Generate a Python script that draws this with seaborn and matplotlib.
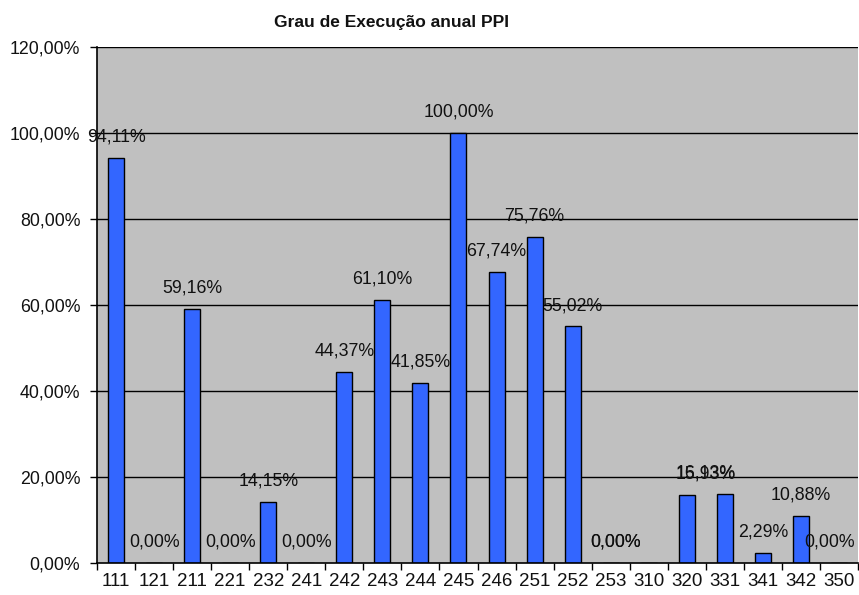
import matplotlib
matplotlib.use("Agg")
import matplotlib.pyplot as plt
import seaborn as sns
import pandas as pd
import numpy as np
from matplotlib.ticker import FuncFormatter, FixedLocator

categories = ["111", "121", "211", "221", "232", "241", "242", "243", "244", "245",
              "246", "251", "252", "253", "310", "320", "331", "341", "342", "350"]
values = [94.11, 0.00, 59.16, 0.00, 14.15, 0.00, 44.37, 61.10, 41.85, 100.00,
          67.74, 75.76, 55.02, 0.00, 0.00, 15.93, 16.13, 2.29, 10.88, 0.00]
title = "Grau de Execução anual PPI"

df = pd.DataFrame({"cat": categories, "val": values})

sns.set_theme(style="white")
plt.rcParams["font.family"] = ["Liberation Sans", "DejaVu Sans"]

fig = plt.figure(figsize=(8.59, 5.95), dpi=100)
ax = fig.add_axes([97/859, 1-563/595, (858-97)/859, (563-47)/595])
ax.set_facecolor("#C0C0C0")

sns.barplot(data=df, x="cat", y="val", order=categories, color="#3366FF",
            saturation=1, width=0.42, edgecolor="black", linewidth=1.0, ax=ax)

ax.set_ylim(0, 120)
ax.set_xlim(-0.5, len(categories) - 0.5)
ax.set_yticks(np.arange(0, 121, 20))
ax.yaxis.set_major_formatter(FuncFormatter(lambda v, p: f"{v:.2f}".replace(".", ",") + "%"))
for y in range(20, 121, 20):
    ax.axhline(y, color="black", lw=1.0, zorder=0.5)

ax.set_xlabel("")
ax.set_ylabel("")
ax.tick_params(axis="y", which="major", direction="out", length=5, width=1,
               color="black", labelsize=12.8, pad=7, left=True)
ax.tick_params(axis="x", which="major", length=0, labelsize=13.5, pad=7)
ax.xaxis.set_minor_locator(FixedLocator(np.arange(-0.5, len(categories), 1.0)))
ax.tick_params(axis="x", which="minor", direction="out", length=5, width=1,
               color="black", bottom=True)
for lab in ax.get_xticklabels() + ax.get_yticklabels():
    lab.set_color("#111111")

for s in ["top", "right"]:
    ax.spines[s].set_visible(False)
for s in ["left", "bottom"]:
    ax.spines[s].set_color("black")
    ax.spines[s].set_linewidth(1.2)

# label horizontal offsets (px), mimicking the reference label placement
xoff_px = {13: 5, 14: -33, 15: 19, 16: -19, 19: -9}
for i, v in enumerate(values):
    txt = f"{v:.2f}".replace(".", ",") + "%"
    dx = xoff_px.get(i, 0) * 0.72
    ax.annotate(txt, (i, v), xytext=(dx, 15), textcoords="offset points",
                ha="center", va="center", fontsize=12.8, color="#111111",
                annotation_clip=False)

fig.text(392/859, 1-23/595, title, ha="center", va="center",
         fontsize=12.5, fontweight="bold", color="#111111")

fig.savefig("out.png", dpi=100)
